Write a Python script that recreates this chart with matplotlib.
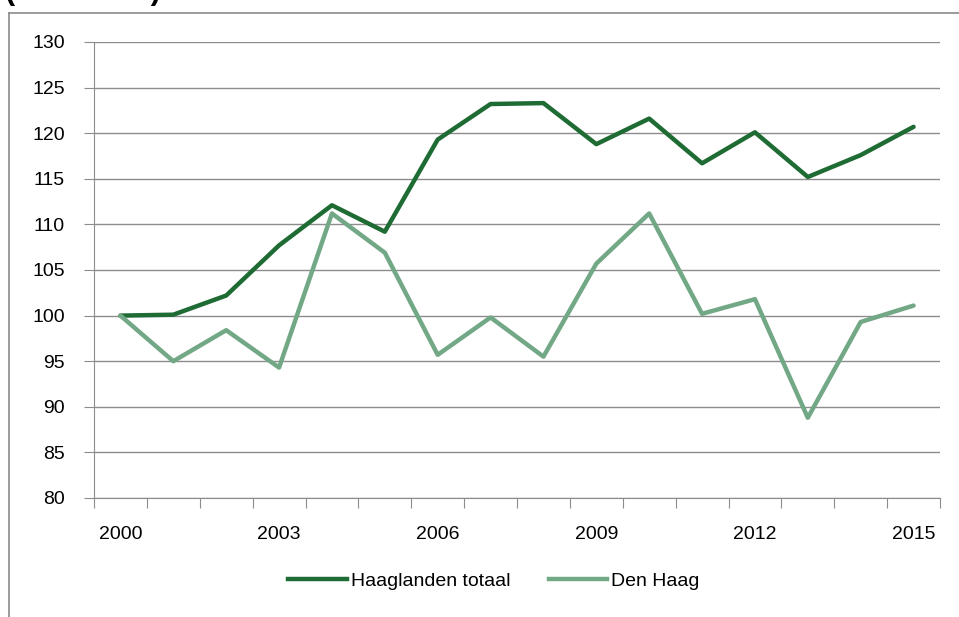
import matplotlib
matplotlib.use("Agg")
import matplotlib.pyplot as plt
from matplotlib.lines import Line2D

# data (index, 2000 = 100)
years = list(range(2000, 2016))
haaglanden = [100.0, 100.1, 102.2, 107.7, 112.1, 109.2, 119.3, 123.2,
              123.3, 118.8, 121.6, 116.7, 120.1, 115.2, 117.6, 120.7]
den_haag = [100.0, 95.0, 98.4, 94.3, 111.2, 106.9, 95.7, 99.8,
            95.5, 105.7, 111.2, 100.2, 101.8, 88.8, 99.3, 101.1]
series_names = ["Haaglanden totaal", "Den Haag"]
yticks = list(range(80, 131, 5))

dark = "#1f6b34"
light = "#72a886"
grid_col = "#8c8c8c"
fs = 14

plt.rcParams['font.family'] = ['Liberation Sans', 'DejaVu Sans']

W, H = 959, 617
fig = plt.figure(figsize=(W / 100, H / 100), dpi=100)

# outer chart frame (only left and top edges visible in the crop)
fig.add_artist(Line2D([9 / W, 9 / W], [0, 1 - 12.5 / H], transform=fig.transFigure,
                      color="#8a8a8a", lw=1.2))
fig.add_artist(Line2D([9 / W, 1], [1 - 12.5 / H, 1 - 12.5 / H], transform=fig.transFigure,
                      color="#8a8a8a", lw=1.2))

# title sits above the crop, only its lower edge shows
fig.text(4 / W, 1 - 6 / H, "(2000=100)", fontsize=22, fontweight="bold",
         ha="left", va="bottom")

left, right, top, bottom = 94, 940, 42, 498
ax = fig.add_axes([left / W, 1 - bottom / H, (right - left) / W, (bottom - top) / H])

x = list(range(len(years)))
ax.plot(x, haaglanden, color=dark, lw=3.2, solid_joinstyle="round",
        solid_capstyle="round", zorder=3)
ax.plot(x, den_haag, color=light, lw=3.2, solid_joinstyle="round",
        solid_capstyle="round", zorder=3)

ax.set_xlim(-0.5, len(years) - 0.5)
ax.set_ylim(80, 130)
ax.set_yticks(yticks)
ax.set_yticklabels([str(v) for v in yticks])
for v in yticks:
    ax.axhline(v, color=grid_col, lw=1.0, zorder=1)

# category axis: ticks between categories, labels every third year
ax.set_xticks([i - 0.5 for i in range(len(years) + 1)])
ax.set_xticklabels([])
ax.set_xticks(x[::3], minor=True)
ax.set_xticklabels([str(y) for y in years[::3]], minor=True)
ax.tick_params(axis="x", which="major", length=7, color=grid_col, direction="out")
ax.tick_params(axis="x", which="minor", length=0, pad=20, labelsize=fs)
ax.tick_params(axis="y", length=7, color=grid_col, pad=14, labelsize=fs)

for s in ["top", "right"]:
    ax.spines[s].set_visible(False)
ax.spines["left"].set_color(grid_col)
ax.spines["bottom"].set_color(grid_col)

handles = [Line2D([], [], color=dark, lw=3.2), Line2D([], [], color=light, lw=3.2)]
fig.legend(handles, series_names, loc="center", bbox_to_anchor=(494 / W, 1 - 581 / H),
           ncol=2, frameon=False, fontsize=fs, handlelength=3.0, handletextpad=0.2,
           columnspacing=2.0)

fig.savefig("out.png", dpi=100)
